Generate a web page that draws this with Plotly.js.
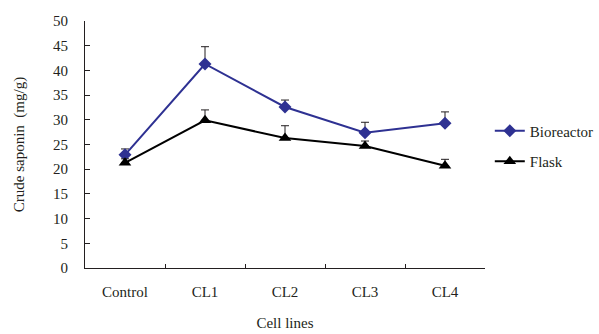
<!DOCTYPE html>
<html><head><meta charset="utf-8">
<script src="https://cdn.plot.ly/plotly-3.0.1.min.js"></script>
<style>html,body{margin:0;padding:0;background:#fff}</style>
</head><body><div id="chart" style="width:599px;height:334px"></div>
<script>
const categories = ["Control","CL1","CL2","CL3","CL4"];
const bioreactor = [22.9, 41.3, 32.6, 27.4, 29.3];
const bioreactorErr = [1.2, 3.5, 1.4, 2.1, 2.3];
const flask = [21.3, 29.9, 26.3, 24.7, 20.7];
const flaskErr = [0.8, 2.1, 2.5, 1.0, 1.3];
const yTicks = [0,5,10,15,20,25,30,35,40,45,50];

const font = {family: "Liberation Serif, Times New Roman, serif", size: 15, color: "#231f20"};
const traces = [
  {x: categories, y: bioreactor, name: "Bioreactor", legendgroup: "a", type: "scatter", mode: "lines+markers",
   line: {color: "#2e3192", width: 2}, marker: {symbol: "diamond", size: 10, color: "#2e3192"},
   error_y: {type: "data", array: bioreactorErr, arrayminus: bioreactorErr.map(() => 0), symmetric: false,
             color: "#231f20", thickness: 1, width: 4}},
  {x: categories, y: flask, name: "Flask", legendgroup: "b", type: "scatter", mode: "lines+markers",
   line: {color: "#000000", width: 2}, marker: {symbol: "triangle-up", size: 11, color: "#000000"},
   error_y: {type: "data", array: flaskErr, arrayminus: flaskErr.map(() => 0), symmetric: false,
             color: "#231f20", thickness: 1, width: 4}}
];
const layout = {
  width: 599, height: 334,
  margin: {l: 85, r: 114, t: 21, b: 66, autoexpand: false},
  paper_bgcolor: "#fff", plot_bgcolor: "#fff",
  font: font,
  showlegend: true,
  legend: {x: 1.012, y: 0.494, xanchor: "left", yanchor: "middle", font: font,
           traceorder: "grouped", tracegroupgap: 8, itemwidth: 30, bgcolor: "rgba(0,0,0,0)"},
  xaxis: {type: "category", tickson: "boundaries", ticks: "inside", ticklen: 4, tickcolor: "#231f20",
          showline: true, linecolor: "#231f20", linewidth: 1, showgrid: false, zeroline: false,
          range: [-0.5, 4.5], tickfont: font, ticklabelstandoff: 10,
          title: {text: "Cell lines", font: font, standoff: 18}},
  yaxis: {range: [0, 50], tickvals: yTicks, ticks: "inside", ticklen: 5, tickcolor: "#231f20",
          showline: true, linecolor: "#231f20", linewidth: 1, showgrid: false, zeroline: false,
          tickfont: font, ticklabelstandoff: 13,
          title: {text: "Crude saponin  (mg/g)", font: font, standoff: 24}}
};
Plotly.newPlot("chart", traces, layout, {displayModeBar: false, staticPlot: true});
</script></body></html>
